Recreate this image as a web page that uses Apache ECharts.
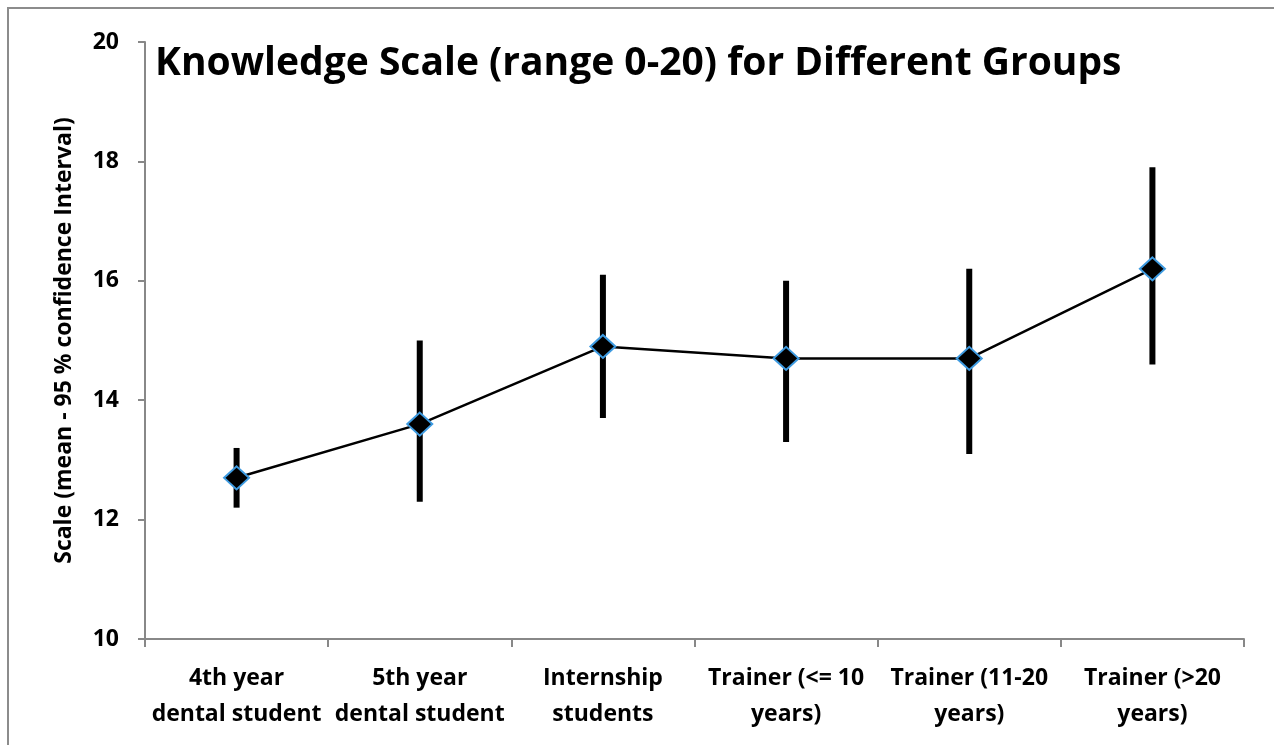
<!DOCTYPE html>
<html>
<head>
<meta charset="utf-8">
<script src="https://cdn.jsdelivr.net/npm/echarts@6/dist/echarts.min.js"></script>
<style>
html,body{margin:0;padding:0;background:#fff;}
#chart{width:1274px;height:745px;}
</style>
</head>
<body>
<div id="chart"></div>
<script>
const categories = ['4th year\ndental student', '5th year\ndental student', 'Internship\nstudents', 'Trainer (<= 10\nyears)', 'Trainer (11-20\nyears)', 'Trainer (>20\nyears)'];
const means = [12.7, 13.6, 14.9, 14.7, 14.7, 16.2];
const lowerCI = [12.2, 12.3, 13.7, 13.3, 13.1, 14.6];
const upperCI = [13.2, 15.0, 16.1, 16.0, 16.2, 17.9];
const yTicks = [10, 12, 14, 16, 18, 20];

const fontFam = '"Open Sans", "Liberation Sans", sans-serif';
const errData = categories.map((c, i) => [i, lowerCI[i], upperCI[i]]);

const chart = echarts.init(document.getElementById('chart'));
chart.setOption({
  animation: false,
  backgroundColor: '#fff',
  title: {
    text: 'Knowledge Scale (range 0-20) for Different Groups',
    left: 150, top: 39,
    textStyle: { fontFamily: fontFam, fontWeight: 'bold', fontSize: 39, color: '#000' }
  },
  graphic: [{
    type: 'rect', silent: true,
    shape: { x: 8, y: 8, width: 1400, height: 900 },
    style: { fill: 'none', stroke: '#8c8c8c', lineWidth: 2 }
  }],
  grid: { left: 145, right: 30, top: 42, bottom: 106 },
  xAxis: {
    type: 'category',
    data: categories,
    boundaryGap: true,
    axisLine: { lineStyle: { color: '#888', width: 2 } },
    axisTick: { show: true, length: 8, lineStyle: { color: '#888', width: 2 } },
    axisLabel: {
      fontFamily: fontFam, fontWeight: 'bold', fontSize: 23, color: '#000',
      lineHeight: 36, margin: 21, interval: 0
    },
    splitLine: { show: false }
  },
  yAxis: {
    type: 'value', min: 10, max: 20, interval: 2,
    name: 'Scale (mean - 95 % confidence Interval)',
    nameLocation: 'middle', nameGap: 69, nameRotate: 90,
    nameTextStyle: { fontFamily: fontFam, fontWeight: 'bold', fontSize: 23, color: '#000' },
    axisLine: { show: true, lineStyle: { color: '#888', width: 2 } },
    axisTick: { show: true, inside: false, length: 7, lineStyle: { color: '#888', width: 2 } },
    axisLabel: {
      fontFamily: fontFam, fontWeight: 'bold', fontSize: 23, color: '#000', margin: 26,
      formatter: v => yTicks.includes(v) ? String(v) : ''
    },
    splitLine: { show: false }
  },
  series: [
    {
      type: 'custom',
      data: errData,
      z: 2,
      renderItem: function (params, api) {
        const x = api.value(0);
        const lo = api.coord([x, api.value(1)]);
        const hi = api.coord([x, api.value(2)]);
        return {
          type: 'line',
          shape: { x1: lo[0], y1: lo[1], x2: hi[0], y2: hi[1] },
          style: { stroke: '#000', lineWidth: 6 }
        };
      }
    },
    {
      type: 'line',
      data: means,
      z: 3,
      lineStyle: { color: '#000', width: 2.5 },
      symbol: 'diamond',
      symbolSize: [25, 23],
      itemStyle: { color: '#000', borderColor: '#3d9ae0', borderWidth: 2 }
    }
  ]
});
</script>
</body>
</html>
